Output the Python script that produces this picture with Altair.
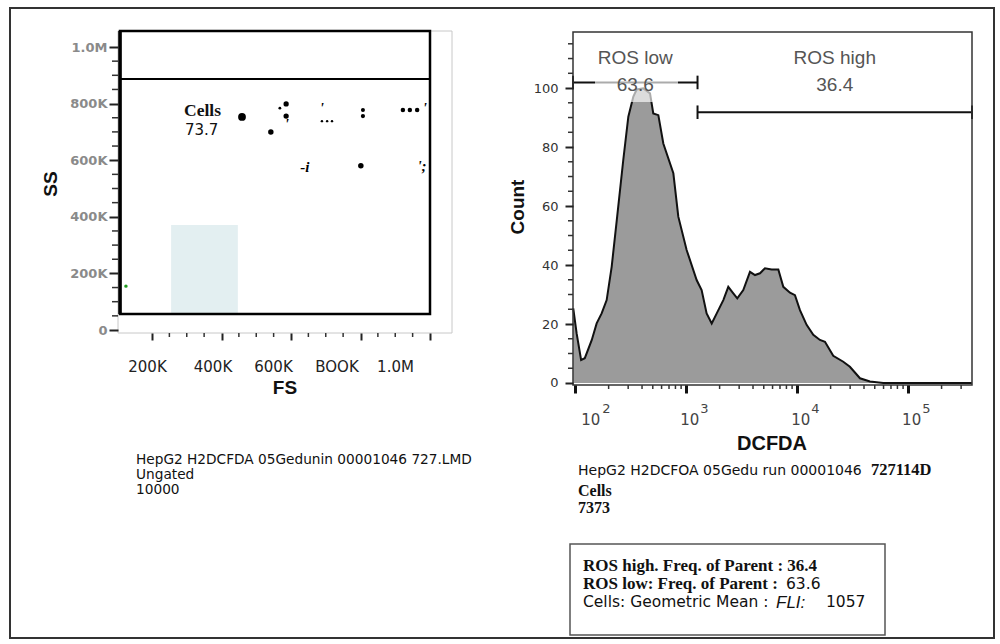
import json
import math
import altair as alt
import pandas as pd

SANS = "DejaVu Sans"
ARIAL = "Liberation Sans"
SERIF = "Liberation Serif"

# ---------------- left panel: FS vs SS ----------------
ss_ticks = [0, 200000, 400000, 600000, 800000, 1000000]
ss_tick_labels = ["0", "200K", "400K", "600K", "800K", "1.0M"]
fs_ticks = [200000, 400000, 600000, 800000, 1000000]
fs_tick_labels = ["200K", "400K", "600K", "BOOK", "1.0M"]
fs_label_shift = [-5, -9, -18, -24, -35]

cells_gate_fs = [108000, 1000000]
cells_gate_ss = [56500, 1056600]
cells_cut_ss = [887000]
shade_fs = [255000, 447000]
shade_ss = [60000, 371000]

dot_fs = [459000, 542000, 586000, 568000, 586000, 801000, 807000, 807000,
          922000, 942000, 963000, 689000, 704000, 718000]
dot_ss = [753000, 700000, 799000, 784000, 756000, 580000, 777000, 756000,
          777000, 777000, 777000, 738000, 738000, 738000]
dot_size = [60, 30, 28, 8, 28, 30, 16, 18, 20, 20, 20, 6, 6, 6]

glyph_fs = [588000, 689000, 985000, 640000, 977000]
glyph_ss = [728000, 784000, 784000, 576000, 580000]
glyph_text = ["'", "'", "'", "-i", "';"]

green_fs = [125000]
green_ss = [155000]

# ---------------- right panel: DCFDA histogram ----------------
hist_dcfda = [96, 103, 113, 122, 141, 156, 173, 192, 213, 237, 271, 301, 334, 358,
              411, 472, 505, 561, 622, 766, 849, 1009, 1242, 1377, 1528, 1698, 1884,
              2160, 2395, 2657, 2886, 3268, 3756, 4166, 4621, 5125, 5888, 6761, 7499,
              8616, 9549, 10593, 12162, 13967, 16040, 17797, 21134, 26014, 29862,
              36795, 45276, 59623, 375000]
hist_count = [25.3, 16.8, 7.8, 8.4, 14.6, 20.2, 23.6, 28.1, 39.4, 55.3, 75.6, 90.3,
              97.1, 99.5, 99.9, 98.2, 91.4, 90.8, 81.2, 71.1, 56.4, 45.1, 34.9, 31.5,
              23.6, 20.2, 23.6, 28.1, 32.6, 30.4, 28.7, 31.5, 37.7, 36.6, 37.2, 38.9,
              38.5, 38.5, 32.6, 30.6, 29.8, 24.7, 19.7, 16.3, 14.6, 14.0, 9.2, 7.2,
              5.5, 1.6, 0.5, 0, 0]

gate_names = ["ROS low", "ROS high"]
gate_freq = ["63.6", "36.4"]
gate_lo = [95.5, 1265]
gate_hi = [1265, 376000]
gate_level = [101.9, 91.8]

count_ticks = [0, 20, 40, 60, 80, 100]
dcfda_ticks = [100, 1000, 10000, 100000]
dcfda_exp = ["2", "3", "4", "5"]

# minor tick positions
ss_minor = [v for v in range(0, 1000001, 50000) if v % 200000]
fs_minor = [v for v in range(200000, 1000001, 50000) if v % 200000]
count_minor = [v for v in range(5, 116, 5) if v % 20]
dcfda_minor = [m * 10 ** k for k in range(2, 6) for m in range(2, 10) if m * 10 ** k < 376000]

# ---------------- scales & axes ----------------
sxl = alt.Scale(domain=[0, 1000000], range=[82.5, 430], nice=False)
syl = alt.Scale(domain=[0, 1000000], range=[330, 47], nice=False)
sxr = alt.Scale(type="log", domain=[95.5, 376000], range=[573, 972], nice=False)
syr = alt.Scale(domain=[-0.68, 119], range=[385, 32], nice=False, zero=False)

axl_x = alt.Axis(
    orient="bottom", offset=-311, values=fs_ticks, title=None, domain=False, grid=False,
    labelExpr=f"{json.dumps(fs_tick_labels)}[indexof({json.dumps(fs_ticks)}, datum.value)]",
    tickSize=7, tickWidth=2, tickColor="#222", zindex=1,
    labelFont=SANS, labelFontSize=15, labelColor="#222", labelBaseline="alphabetic",
    labelPadding=31, labelFlush=False, labelOverlap=False,
    labelOffset={"condition": [{"test": f"datum.value == {v}", "value": s}
                               for v, s in zip(fs_ticks, fs_label_shift)], "value": 0},
)
axl_y = alt.Axis(
    orient="left", offset=-118, values=ss_ticks, title=None, domain=False, grid=False,
    labelExpr=f"{json.dumps(ss_tick_labels)}[indexof({json.dumps(ss_ticks)}, datum.value)]",
    tickSize=9, tickWidth=2, tickColor="#222", zindex=1,
    labelFont=SANS, labelFontSize=13, labelFontWeight="bold", labelColor="#8a8a8a",
    labelPadding=2, labelFlush=False, labelOverlap=False,
)
axr_x = alt.Axis(
    orient="bottom", offset=-259, values=dcfda_ticks, title=None, domain=False, grid=False,
    labelExpr="'10'", tickSize=8, tickWidth=3, tickColor="#111", zindex=1,
    labelFont=SANS, labelFontSize=15, labelColor="#444", labelBaseline="alphabetic",
    labelPadding=31, labelFlush=False, labelOverlap=False,
    labelOffset={"condition": [{"test": "datum.value == 100", "value": 15}], "value": 3},
)
axr_y = alt.Axis(
    orient="left", offset=-573, values=count_ticks, title=None, domain=False, grid=False,
    tickSize=8, tickWidth=2, tickColor="#222", zindex=1,
    labelFont=SANS, labelFontSize=13, labelColor="#333", labelPadding=7,
    labelFlush=False, labelOverlap=False,
)


def LX(f):
    return alt.X(f, type="quantitative", scale=sxl, axis=axl_x)


def LY(f):
    return alt.Y(f, type="quantitative", scale=syl, axis=axl_y)


def RX(f):
    return alt.X(f, type="quantitative", scale=sxr, axis=axr_x)


def RY(f):
    return alt.Y(f, type="quantitative", scale=syr, axis=axr_y)


def txt(s, x, y, size, font=SANS, weight="normal", style="normal", color="#111",
        align="left", baseline="alphabetic", angle=0):
    kw = dict(x=x, y=y, fontSize=size, font=font, fontWeight=weight, fontStyle=style,
              color=color, align=align, baseline=baseline)
    if angle:
        kw["angle"] = angle
    return alt.Chart(pd.DataFrame({"t": [s]})).mark_text(**kw).encode(text="t:N")


def box(x, x2, y, y2, stroke, width, fill="white", fill_opacity=1.0):
    return alt.Chart(pd.DataFrame({"a": [0]})).mark_rect(
        fill=fill, fillOpacity=fill_opacity, stroke=stroke, strokeWidth=width
    ).encode(x=alt.value(x), x2=alt.value(x2), y=alt.value(y), y2=alt.value(y2))


# ---------------- left panel layers ----------------
gate_df = pd.DataFrame({"fs0": [cells_gate_fs[0]], "fs1": [cells_gate_fs[1]],
                        "ss0": [cells_gate_ss[0]], "ss1": [cells_gate_ss[1]],
                        "cut": cells_cut_ss})
shade_df = pd.DataFrame({"fs0": [shade_fs[0]], "fs1": [shade_fs[1]],
                         "ss0": [shade_ss[0]], "ss1": [shade_ss[1]]})

shade = alt.Chart(shade_df).mark_rect(color="#e3eff1").encode(
    x=LX("fs0"), x2="fs1", y=LY("ss0"), y2="ss1")
frame_l = alt.Chart(gate_df).mark_rect(fillOpacity=0, stroke="#000", strokeWidth=2.5).encode(
    x=LX("fs0"), x2="fs1", y=LY("ss0"), y2="ss1")
cut = alt.Chart(gate_df).mark_rule(color="#000", strokeWidth=2).encode(
    x=LX("fs0"), x2="fs1", y=LY("cut"))
left_edge = alt.Chart(gate_df).mark_rule(color="#000", strokeWidth=3.5).encode(
    x=LX("fs0"), y=LY("ss0"), y2="ss1")
ss_minor_ticks = alt.Chart(pd.DataFrame({"v": ss_minor})).mark_rule(
    color="#333", strokeWidth=1.5).encode(x=alt.value(112), x2=alt.value(118), y=LY("v"))
fs_minor_ticks = alt.Chart(pd.DataFrame({"v": fs_minor})).mark_rule(
    color="#333", strokeWidth=1.5).encode(y=alt.value(333), y2=alt.value(337), x=LX("v"))
dots = alt.Chart(pd.DataFrame({"fs": dot_fs, "ss": dot_ss, "s": dot_size})).mark_circle(
    color="#000", opacity=1).encode(x=LX("fs"), y=LY("ss"), size=alt.Size("s:Q", scale=None))
glyphs = alt.Chart(pd.DataFrame({"fs": glyph_fs, "ss": glyph_ss, "t": glyph_text})).mark_text(
    font=SERIF, fontWeight="bold", fontStyle="italic", fontSize=15, color="#000",
    baseline="middle").encode(x=LX("fs"), y=LY("ss"), text="t:N")
green = alt.Chart(pd.DataFrame({"fs": green_fs, "ss": green_ss})).mark_circle(
    color="#1f9a1f", size=12, opacity=1).encode(x=LX("fs"), y=LY("ss"))

left = alt.layer(shade, frame_l, cut, left_edge, ss_minor_ticks, fs_minor_ticks,
                 dots, glyphs, green)

# ---------------- right panel layers ----------------
hist_df = pd.DataFrame({"x": hist_dcfda, "c": hist_count})
area = alt.Chart(hist_df).mark_area(color="#9b9b9b", opacity=1).encode(x=RX("x"), y=RY("c"))
outline = alt.Chart(hist_df).mark_line(color="#111", strokeWidth=2).encode(x=RX("x"), y=RY("c"))

gdf = pd.DataFrame({"lo": gate_lo, "hi": gate_hi, "lev": gate_level,
                    "name": gate_names, "freq": gate_freq})
gdf["mid"] = [math.sqrt(a * b) for a, b in zip(gate_lo, gate_hi)]
gate_lines = alt.Chart(gdf).mark_rule(color="#111", strokeWidth=2).encode(
    x=RX("lo"), x2="hi", y=RY("lev"))
end_rows = []
for a, b, lv in zip(gate_lo, gate_hi, gate_level):
    for e in (a, b):
        end_rows.append({"e": e, "y0": lv - 2.3, "y1": lv + 2.3})
gate_ends = alt.Chart(pd.DataFrame(end_rows)).mark_rule(color="#111", strokeWidth=2).encode(
    x=RX("e"), y=RY("y0"), y2="y1")
label_bg = box(595, 678, 72, 102, "white", 0, fill="white", fill_opacity=0.65)
gate_name_txt = alt.Chart(gdf).mark_text(font=ARIAL, fontSize=19, color="#555",
                                         baseline="alphabetic").encode(
    x=RX("mid"), y=alt.value(64), text="name:N")
gate_freq_txt = alt.Chart(gdf).mark_text(font=ARIAL, fontSize=19, color="#555",
                                         baseline="alphabetic").encode(
    x=RX("mid"), y=alt.value(91), text="freq:N")
count_minor_ticks = alt.Chart(pd.DataFrame({"v": count_minor})).mark_rule(
    color="#333", strokeWidth=1.5).encode(x=alt.value(568), x2=alt.value(573), y=RY("v"))
dcfda_minor_ticks = alt.Chart(pd.DataFrame({"v": dcfda_minor})).mark_rule(
    color="#333", strokeWidth=1.5).encode(y=alt.value(385), y2=alt.value(389), x=RX("v"))
exp_df = pd.DataFrame({"v": dcfda_ticks, "e": dcfda_exp})
exp_first = alt.Chart(exp_df).transform_filter("datum.v == 100").mark_text(
    font=SANS, fontSize=13, color="#444", align="left", baseline="alphabetic", dx=27).encode(
    x=RX("v"), y=alt.value(413), text="e:N")
exp_rest = alt.Chart(exp_df).transform_filter("datum.v != 100").mark_text(
    font=SANS, fontSize=13, color="#444", align="left", baseline="alphabetic", dx=14).encode(
    x=RX("v"), y=alt.value(413), text="e:N")
frame_r = box(573, 972, 32, 385, "#333", 1.5, fill="white", fill_opacity=0)

right = alt.layer(area, outline, gate_lines, gate_ends, label_bg, gate_name_txt,
                  gate_freq_txt, count_minor_ticks, dcfda_minor_ticks, exp_first,
                  exp_rest, frame_r)

# ---------------- page decorations & text ----------------
border = box(10, 994, 8, 638, "#333", 2, fill_opacity=0)
plot_box_l = box(118, 452, 31, 333, "#c8c8c8", 1, fill_opacity=0)
stats_box = box(570, 885, 544, 635, "#555", 1.5)

texts = [
    txt("SS", 51, 184, 19, ARIAL, "bold", align="center", baseline="middle", angle=270),
    txt("FS", 285, 394, 19, ARIAL, "bold", align="center"),
    txt("Count", 518, 207, 19, ARIAL, "bold", align="center", baseline="middle", angle=270),
    txt("DCFDA", 772, 450, 20, ARIAL, "bold", align="center"),
    txt("Cells", 184, 116, 17.5, SERIF, "bold"),
    txt("73.7", 185, 135, 15),
    txt("HepG2 H2DCFDA 05Gedunin 00001046 727.LMD", 136, 464, 13.7),
    txt("Ungated", 136, 479, 13.7),
    txt("10000", 136, 494, 13.7),
    txt("HepG2 H2DCFOA 05Gedu run 00001046", 578, 475, 14.0),
    txt("727114D", 871, 475, 16.5, SERIF, "bold"),
    txt("Cells", 578, 496, 16, SERIF, "bold"),
    txt("7373", 578, 513, 16, SERIF, "bold"),
    txt("ROS high. Freq. of Parent : 36.4", 583, 571, 17, SERIF, "bold"),
    txt("ROS low: Freq. of Parent :", 583, 589, 17, SERIF, "bold"),
    txt("63.6", 786, 589, 15.5),
    txt("Cells: Geometric Mean :", 583, 607, 15.5),
    txt("FLI:", 776, 608, 17, ARIAL, style="italic"),
    txt("1057", 826, 607, 15.5),
]

chart = alt.layer(border, plot_box_l, stats_box, left, right, *texts).resolve_scale(
    x="independent", y="independent"
).properties(
    width=1000, height=644, padding=0,
    autosize=alt.AutoSizeParams(type="none"), background="white",
).configure_view(stroke=None)

chart.save("out.html", embed_options={"renderer": "svg", "actions": False})
